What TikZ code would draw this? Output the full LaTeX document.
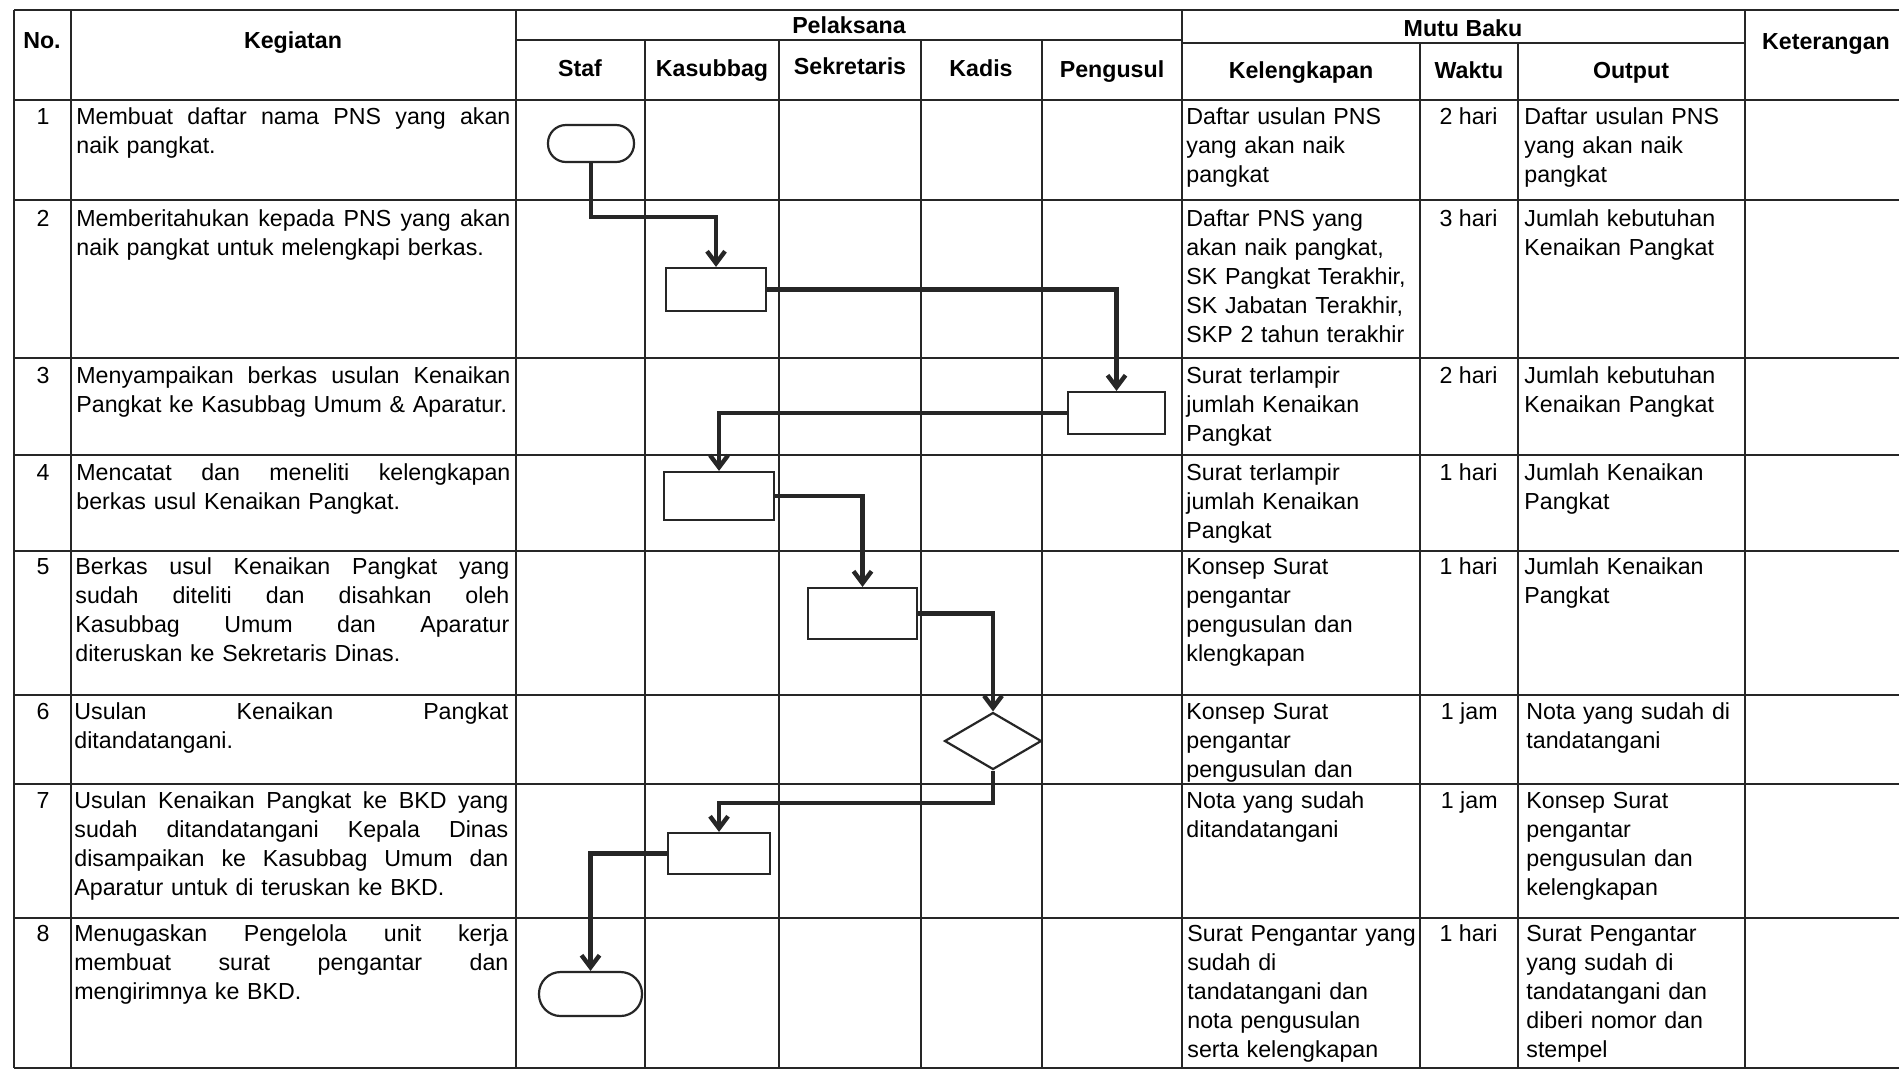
\documentclass[tikz,border=0pt]{standalone}
\usepackage{fontspec}
\setmainfont{Liberation Sans}
\usetikzlibrary{arrows.meta,shapes.geometric}
\newlength\kw \setlength\kw{217pt}
\newcommand\jl[1]{{\spaceskip=0pt\xspaceskip=0pt\makebox[\kw][s]{#1}}}
\begin{document}
\begin{tikzpicture}[x=0.5pt,y=-0.5pt,
  font=\fontsize{11.6}{14.5}\selectfont,
  grid/.style={line width=1.1pt, draw=black!85},
  hd/.style={font=\fontsize{11.6}{14.5}\selectfont\bfseries, anchor=base, inner sep=0},
  kcell/.style={anchor=north west, inner sep=0, text width=217pt, align=left},
  rcell/.style={anchor=north west, inner sep=0, text width=125pt, align=left},
  num/.style={anchor=base, inner sep=0},
  wk/.style={anchor=base east, inner sep=0},
  proc/.style={draw=black!85, line width=1.1pt, rectangle, inner sep=0},
  term/.style={draw=black!85, line width=1.1pt, rectangle, inner sep=0},
  dec/.style={draw=black!85, line width=1.1pt, diamond, inner sep=0},
  conn/.style={draw=black!85, line width=2.2pt, -{Straight Barb[length=6pt,width=9pt]}}
]
\fill[white] (0,0) rectangle (1899,1073);
\useasboundingbox (0,0) rectangle (1899,1073);

% ---------- grid ----------
\foreach \yy in {10,100,200,358,455,551,695,784,918,1068}
  \draw[grid] (14,\yy) -- (1899,\yy);
\draw[grid] (516,40) -- (1182,40);
\draw[grid] (1182,43) -- (1745,43);
\foreach \xx in {14,71,516,1182,1745}
  \draw[grid] (\xx,10) -- (\xx,1068);
\foreach \xx in {645,779,921,1042}
  \draw[grid] (\xx,40) -- (\xx,1068);
\foreach \xx in {1420,1518}
  \draw[grid] (\xx,43) -- (\xx,1068);

% ---------- headers ----------
\node[hd] (hNo) at (42,48) {No.};
\node[hd] (hKeg) at (293,48) {Kegiatan};
\node[hd] (hPel) at (849,33) {Pelaksana};
\node[hd] (hStaf) at (580,76) {Staf};
\node[hd] (hKas) at (712,76) {Kasubbag};
\node[hd] (hSek) at (850,74) {Sekretaris};
\node[hd] (hKad) at (981,76) {Kadis};
\node[hd] (hPen) at (1112,77) {Pengusul};
\node[hd] (hMutu) at (1463,36) {Mutu Baku};
\node[hd] (hKel) at (1301,78) {Kelengkapan};
\node[hd] (hWak) at (1469,78) {Waktu};
\node[hd] (hOut) at (1631,78) {Output};
\node[hd] (hKet) at (1826,49) {Keterangan};

% ---------- row numbers ----------
\node[num] (n1) at (43,124) {1};
\node[num] (n2) at (43,226) {2};
\node[num] (n3) at (43,383) {3};
\node[num] (n4) at (43,480) {4};
\node[num] (n5) at (43,574) {5};
\node[num] (n6) at (43,719) {6};
\node[num] (n7) at (43,808) {7};
\node[num] (n8) at (43,941) {8};

% ---------- Kegiatan ----------
\node[kcell] (k1) at (76,103.7) {\strut\jl{Membuat daftar nama PNS yang akan}\\naik pangkat.};
\node[kcell] (k2) at (76,205.7) {\strut\jl{Memberitahukan kepada PNS yang akan}\\naik pangkat untuk melengkapi berkas.};
\node[kcell] (k3) at (76,362.7) {\strut\jl{Menyampaikan berkas usulan Kenaikan}\\Pangkat ke Kasubbag Umum \& Aparatur.};
\node[kcell] (k4) at (76,459.7) {\strut\jl{Mencatat dan meneliti kelengkapan}\\berkas usul Kenaikan Pangkat.};
\node[kcell] (k5) at (75,553.7) {\strut\jl{Berkas usul Kenaikan Pangkat yang}\\\jl{sudah diteliti dan disahkan oleh}\\\jl{Kasubbag Umum dan Aparatur}\\diteruskan ke Sekretaris Dinas.};
\node[kcell] (k6) at (74,698.7) {\strut\jl{Usulan Kenaikan Pangkat}\\ditandatangani.};
\node[kcell] (k7) at (74,787.7) {\strut\jl{Usulan Kenaikan Pangkat ke BKD yang}\\\jl{sudah ditandatangani Kepala Dinas}\\\jl{disampaikan ke Kasubbag Umum dan}\\Aparatur untuk di teruskan ke BKD.};
\node[kcell] (k8) at (74,920.7) {\strut\jl{Menugaskan Pengelola unit kerja}\\\jl{membuat surat pengantar dan}\\mengirimnya ke BKD.};

% ---------- Kelengkapan ----------
\node[rcell] (l1) at (1186,103.7) {\strut Daftar usulan PNS\\yang akan naik\\pangkat};
\node[rcell] (l2) at (1186,205.7) {\strut Daftar PNS yang\\akan naik pangkat,\\SK Pangkat Terakhir,\\SK Jabatan Terakhir,\\SKP 2 tahun terakhir};
\node[rcell] (l3) at (1186,362.7) {\strut Surat terlampir\\jumlah Kenaikan\\Pangkat};
\node[rcell] (l4) at (1186,459.7) {\strut Surat terlampir\\jumlah Kenaikan\\Pangkat};
\node[rcell] (l5) at (1186,553.7) {\strut Konsep Surat\\pengantar\\pengusulan dan\\klengkapan};
\node[rcell] (l6) at (1186,698.7) {\strut Konsep Surat\\pengantar\\pengusulan dan};
\node[rcell] (l7) at (1186,787.7) {\strut Nota yang sudah\\ditandatangani};
\node[rcell] (l8) at (1187,920.7) {\strut Surat Pengantar yang\\sudah di\\tandatangani dan\\nota pengusulan\\serta kelengkapan};

% ---------- Waktu ----------
\node[wk] (w1) at (1498,124) {2 hari};
\node[wk] (w2) at (1498,226) {3 hari};
\node[wk] (w3) at (1498,383) {2 hari};
\node[wk] (w4) at (1498,480) {1 hari};
\node[wk] (w5) at (1498,574) {1 hari};
\node[wk] (w6) at (1498,719) {1 jam};
\node[wk] (w7) at (1498,808) {1 jam};
\node[wk] (w8) at (1498,941) {1 hari};

% ---------- Output ----------
\node[rcell] (o1) at (1524,103.7) {\strut Daftar usulan PNS\\yang akan naik\\pangkat};
\node[rcell] (o2) at (1524,205.7) {\strut Jumlah kebutuhan\\Kenaikan Pangkat};
\node[rcell] (o3) at (1524,362.7) {\strut Jumlah kebutuhan\\Kenaikan Pangkat};
\node[rcell] (o4) at (1524,459.7) {\strut Jumlah Kenaikan\\Pangkat};
\node[rcell] (o5) at (1524,553.7) {\strut Jumlah Kenaikan\\Pangkat};
\node[rcell] (o6) at (1526,698.7) {\strut Nota yang sudah di\\tandatangani};
\node[rcell] (o7) at (1526,787.7) {\strut Konsep Surat\\pengantar\\pengusulan dan\\kelengkapan};
\node[rcell] (o8) at (1526,920.7) {\strut Surat Pengantar\\yang sudah di\\tandatangani dan\\diberi nomor dan\\stempel};

% ---------- flow shapes ----------
\node[term, minimum width=43pt, minimum height=18.5pt, rounded corners=9pt] (t1) at (591,143.5) {};
\node[proc, minimum width=50pt, minimum height=21.5pt] (b2) at (716,289.5) {};
\node[proc, minimum width=48.5pt, minimum height=21pt] (b3) at (1116.5,413) {};
\node[proc, minimum width=55pt, minimum height=24pt] (b4) at (719,496) {};
\node[proc, minimum width=54.5pt, minimum height=25.5pt] (b5) at (862.5,613.5) {};
\node[dec, minimum width=48.5pt, minimum height=28.5pt] (d6) at (993,741) {};
\node[proc, minimum width=51pt, minimum height=20.5pt] (b7) at (719,853.5) {};
\node[term, minimum width=51.5pt, minimum height=22pt, rounded corners=10.8pt] (t8) at (590.5,994) {};

\coordinate (k1y) at (0,217);
\coordinate (k6y) at (0,803);

% ---------- connectors ----------
\draw[conn] (t1.south) -- (t1.south |- k1y) -- (b2.north |- k1y) -- (b2.north);
\draw[conn] (b2.east) -| (b3.north);
\draw[conn] (b3.west) -| (b4.north);
\draw[conn] (b4.east) -| (b5.north);
\draw[conn] (b5.east) -| (d6.north);
\draw[conn] (d6.south) -- (d6.south |- k6y) -- (b7.north |- k6y) -- (b7.north);
\draw[conn] (b7.west) -| (t8.north);
\end{tikzpicture}
\end{document}
